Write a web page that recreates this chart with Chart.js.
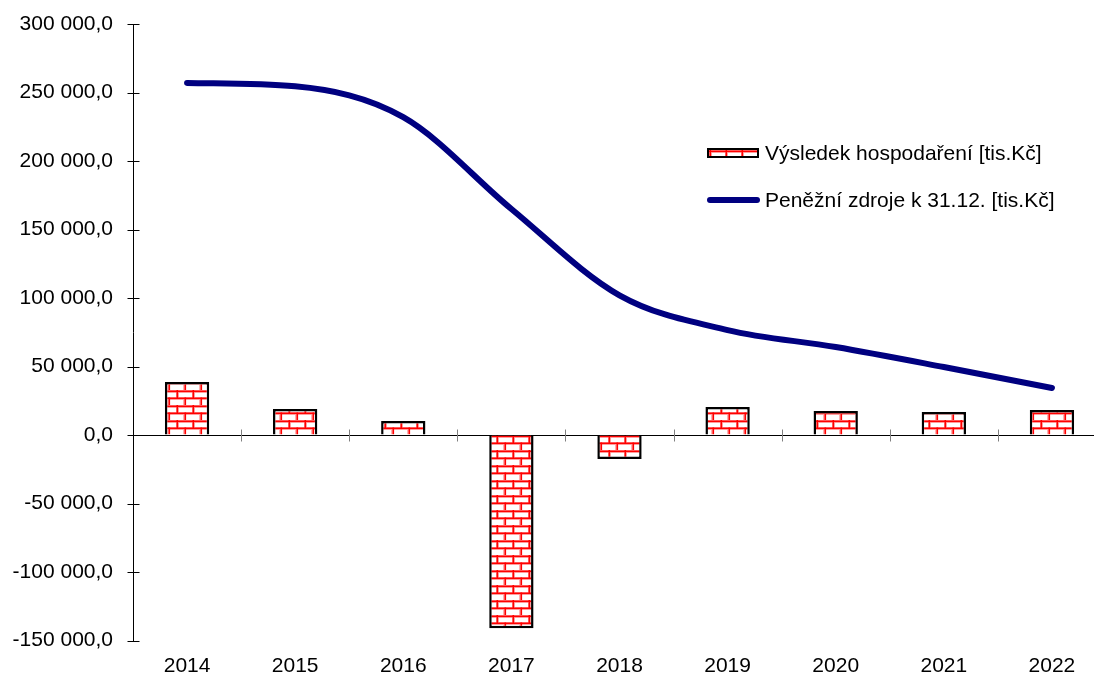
<!DOCTYPE html>
<html>
<head>
<meta charset="utf-8">
<script src="https://cdn.jsdelivr.net/npm/chart.js@4.4.1/dist/chart.umd.min.js"></script>
<style>
  html, body { margin: 0; padding: 0; background: #fff; overflow: hidden; width: 1094px; height: 675px; }
  #wrap { position: relative; width: 1110px; height: 675px; }
  #legend { position: absolute; left: 707px; top: 140px; font-family: "Liberation Sans", Arial, sans-serif; font-size: 21px; color: #000; }
  .item { position: absolute; left: 0; white-space: nowrap; height: 26px; }
  .item span { position: absolute; left: 58px; top: 0; line-height: 26px; }
  .sym-bar { position: absolute; left: 0; top: 8px; width: 52px; height: 10px; box-sizing: border-box; border: 2px solid #000; }
  .sym-line { position: absolute; left: 0; top: 10px; width: 53px; height: 6px; border-radius: 3px; background: #000080; }
</style>
</head>
<body>
<div id="wrap">
  <canvas id="c"></canvas>
  <div id="legend"></div>
</div>
<script>
const categories = ['2014','2015','2016','2017','2018','2019','2020','2021','2022'];
const vysledekHospodareni = [38700, 19000, 10300, -141000, -17500, 20400, 17500, 16800, 18200];
const penezniZdroje = [257000, 254500, 232000, 165000, 102000, 76600, 64200, 49600, 34300];
const seriesNames = ['Výsledek hospodaření [tis.Kč]', 'Peněžní zdroje k 31.12. [tis.Kč]'];
const yTicks = { min: -150000, max: 300000, step: 50000 };

function makeBrickPattern() {
  const t = document.createElement('canvas');
  t.width = 16; t.height = 15;
  const g = t.getContext('2d');
  g.fillStyle = '#ffffff';
  g.fillRect(0, 0, 16, 15);
  g.fillStyle = '#ffb0b0';
  g.fillRect(0, 0, 16, 3); g.fillRect(0, 7, 16, 3);
  g.fillRect(0, 0, 3, 8); g.fillRect(7, 7, 3, 8);
  g.fillStyle = '#ff0000';
  g.fillRect(0, 0.5, 16, 1.6);
  g.fillRect(0, 7.5, 16, 1.6);
  g.fillRect(0.5, 0, 1.6, 8);
  g.fillRect(8.5, 7.5, 1.6, 8);
  return t;
}
const brickTile = makeBrickPattern();
const ctx = document.getElementById('c').getContext('2d');
const brick = ctx.createPattern(brickTile, 'repeat');

function fmt(v) {
  const neg = v < 0;
  const s = Math.abs(Math.round(v)).toString().replace(/\B(?=(\d{3})+(?!\d))/g, ' ');
  return (neg ? '-' : '') + s + ',0';
}

const crossTicks = {
  id: 'crossTicks',
  afterDraw(chart) {
    const c = chart.ctx;
    const x = chart.scales.x, y = chart.scales.y;
    c.save();
    c.lineWidth = 1;
    c.strokeStyle = '#000';
    const left = Math.round(chart.chartArea.left) + 0.5;
    y.ticks.forEach((t) => {
      const py = Math.round(y.getPixelForValue(t.value)) + 0.5;
      c.beginPath(); c.moveTo(left - 6, py); c.lineTo(left + 6, py); c.stroke();
    });
    c.strokeStyle = '#808080';
    const y0 = Math.round(y.getPixelForValue(0)) + 0.5;
    for (let i = 0; i < categories.length - 1; i++) {
      const px = Math.round((x.getPixelForValue(i) + x.getPixelForValue(i + 1)) / 2) + 0.5;
      c.beginPath(); c.moveTo(px, y0 - 6); c.lineTo(px, y0 + 6); c.stroke();
    }
    c.restore();
  }
};

Chart.defaults.font.family = '"Liberation Sans", Arial, sans-serif';
Chart.defaults.font.size = 21;
Chart.defaults.color = '#000';

new Chart(ctx, {
  data: {
    labels: categories,
    datasets: [
      {
        type: 'line', label: seriesNames[1], data: penezniZdroje,
        borderColor: '#000080', borderWidth: 6, cubicInterpolationMode: 'monotone',
        pointRadius: 0, borderCapStyle: 'round', borderJoinStyle: 'round',
        fill: false, order: 0, xAxisID: 'x', yAxisID: 'y'
      },
      {
        type: 'bar', label: seriesNames[0], data: vysledekHospodareni,
        backgroundColor: brick, borderColor: '#000', borderWidth: 2.5,
        barPercentage: 0.41, categoryPercentage: 1, order: 1, xAxisID: 'x', yAxisID: 'y'
      }
    ]
  },
  options: {
    responsive: true, maintainAspectRatio: false, animation: false,
    layout: { padding: { left: 5, right: 4, top: 24, bottom: 0 } },
    plugins: { legend: { display: false }, tooltip: { enabled: false } },
    scales: {
      x: {
        type: 'category', position: { y: 0 }, offset: true,
        grid: { display: false, drawTicks: false },
        border: { display: true, color: '#000', width: 1 },
        ticks: { display: false }
      },
      x2: {
        type: 'category', position: 'bottom', offset: true,
        grid: { display: false, drawTicks: false, offset: true },
        border: { display: false },
        ticks: { padding: 13, maxRotation: 0, autoSkip: false },
        afterFit(s) { s.height = 34.5; }
      },
      y: {
        min: yTicks.min, max: yTicks.max,
        grid: { display: true, drawOnChartArea: false, drawTicks: true, tickLength: 20, color: 'rgba(0,0,0,0)' },
        border: { display: true, color: '#000', width: 1 },
        ticks: { stepSize: yTicks.step, padding: 0, callback: (v) => fmt(v) },
        afterFit(s) { s.width = 128; }
      }
    }
  },
  plugins: [crossTicks]
});

const leg = document.getElementById('legend');
const it1 = document.createElement('div');
it1.className = 'item'; it1.style.top = '0px';
const sym1 = document.createElement('canvas');
sym1.className = 'sym-bar'; sym1.width = 48; sym1.height = 6;
const sg = sym1.getContext('2d');
sg.fillStyle = sg.createPattern(brickTile, 'repeat');
sg.fillRect(0, 0, 48, 6);
const tx1 = document.createElement('span'); tx1.textContent = seriesNames[0];
it1.appendChild(sym1); it1.appendChild(tx1);
const it2 = document.createElement('div');
it2.className = 'item'; it2.style.top = '47px';
const sym2 = document.createElement('div'); sym2.className = 'sym-line';
const tx2 = document.createElement('span'); tx2.textContent = seriesNames[1];
it2.appendChild(sym2); it2.appendChild(tx2);
leg.appendChild(it1); leg.appendChild(it2);
</script>
</body>
</html>
